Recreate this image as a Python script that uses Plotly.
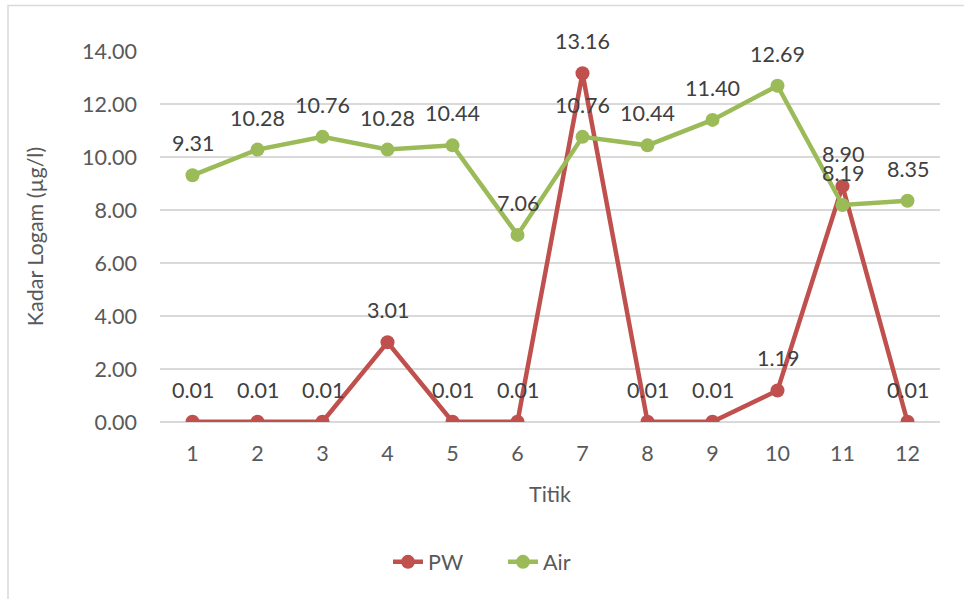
import plotly.graph_objects as go

categories = [1, 2, 3, 4, 5, 6, 7, 8, 9, 10, 11, 12]
pw_values = [0.01, 0.01, 0.01, 3.01, 0.01, 0.01, 13.16, 0.01, 0.01, 1.19, 8.90, 0.01]
air_values = [9.31, 10.28, 10.76, 10.28, 10.44, 7.06, 10.76, 10.44, 11.40, 12.69, 8.19, 8.35]
y_ticks = [0, 2, 4, 6, 8, 10, 12, 14]
y_tick_labels = ["0.00", "2.00", "4.00", "6.00", "8.00", "10.00", "12.00", "14.00"]

RED = "#C0504D"
GREEN = "#9BBB59"
FONT = "Lato, 'Open Sans', sans-serif"
FS = 21.5

fig = go.Figure()
for name, vals, col in [("PW", pw_values, RED), ("Air", air_values, GREEN)]:
    fig.add_trace(go.Scatter(
        x=categories, y=vals, name=name, mode="lines+markers",
        line=dict(color=col, width=4.5),
        marker=dict(color=col, size=14),
    ))

annotations = []
for vals in (pw_values, air_values):
    for c, v in zip(categories, vals):
        annotations.append(dict(
            x=c, y=v, xref="x", yref="y", text=f"{v:.2f}", showarrow=False,
            yshift=32, font=dict(family=FONT, size=FS, color="#404040"),
        ))

fig.update_layout(
    width=964, height=599,
    margin=dict(l=160, r=24, t=51, b=177),
    paper_bgcolor="white", plot_bgcolor="white",
    font=dict(family=FONT, size=FS, color="#595959"),
    annotations=annotations,
    showlegend=True,
    legend=dict(orientation="h", x=(388 - 160) / 780, xanchor="left", y=-0.377, yanchor="middle",
                font=dict(size=FS, color="#595959"), entrywidth=70, traceorder="normal"),
    shapes=[dict(type="rect", xref="paper", yref="paper",
                 x0=(8 - 160) / 780, x1=(975 - 160) / 780,
                 y0=(422 - 610) / 371, y1=(422 - 5.5) / 371,
                 line=dict(color="#d9d9d9", width=1.5), fillcolor="rgba(0,0,0,0)", layer="below")],
)
fig.update_xaxes(
    range=[0.5, 12.5], tickmode="array", tickvals=categories,
    ticktext=[str(c) for c in categories], showgrid=False, zeroline=False,
    showline=False, ticks="", ticklabelstandoff=16,
    title=dict(text="Titik", standoff=22, font=dict(size=FS, color="#595959")),
)
fig.update_yaxes(
    range=[0, 14], tickmode="array", tickvals=y_ticks, ticktext=y_tick_labels,
    showgrid=True, gridcolor="#d9d9d9", gridwidth=1.5, zeroline=True,
    zerolinecolor="#d9d9d9", zerolinewidth=1.5, showline=False, ticks="",
    ticklabelstandoff=22,
    title=dict(text="Kadar Logam (µg/l)", standoff=32, font=dict(size=FS, color="#595959")),
)

fig.write_html("out.html", config={"displayModeBar": False},
               post_script="document.body.style.margin='0';")
